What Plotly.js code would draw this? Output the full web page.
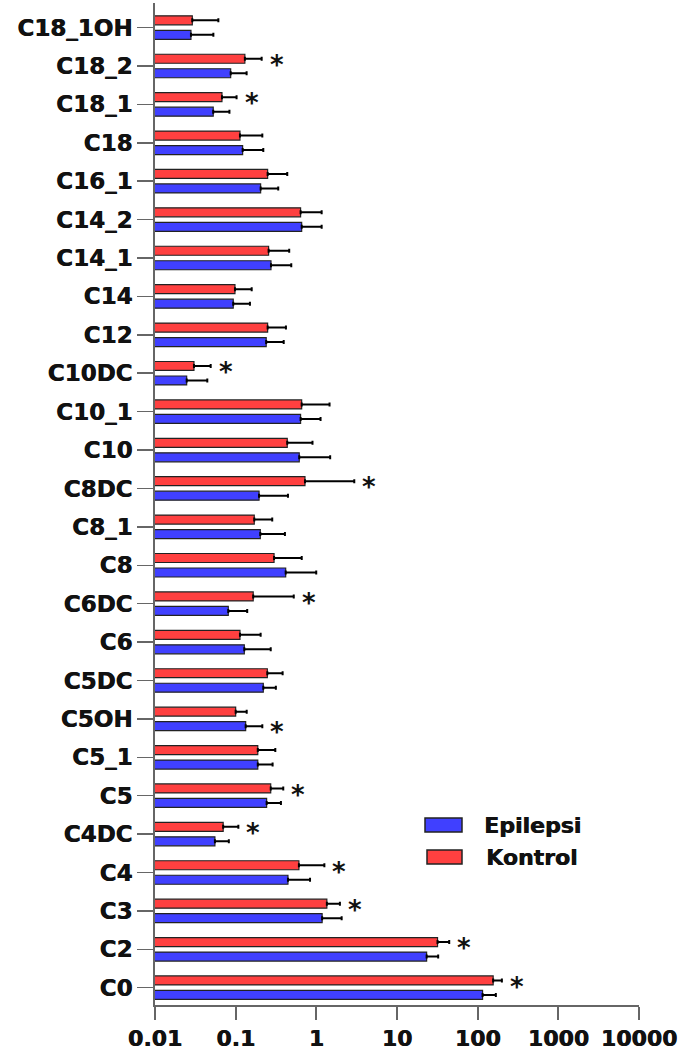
<!DOCTYPE html>
<html>
<head>
<meta charset="utf-8">
<script src="https://cdn.plot.ly/plotly-3.0.1.min.js"></script>
<style>html,body{margin:0;padding:0;background:#fff;}#chart{width:680px;height:1050px;}</style>
</head>
<body>
<div id="chart"></div>
<script>
// Categories (bottom to top)
var categories = ["C0","C2","C3","C4","C4DC","C5","C5_1","C5OH","C5DC","C6","C6DC","C8","C8_1","C8DC","C10","C10_1","C10DC","C12","C14","C14_1","C14_2","C16_1","C18","C18_1","C18_2","C18_1OH"];

var seriesNames = ["Epilepsi", "Kontrol"];
var seriesColors = ["#4040FF", "#FF4040"];

var epilepsiMean = [115, 23.3, 1.18, 0.445, 0.0553, 0.242, 0.188, 0.133, 0.220, 0.128, 0.081, 0.417, 0.202, 0.195, 0.614, 0.638, 0.0247, 0.239, 0.0933, 0.274, 0.658, 0.204, 0.122, 0.0527, 0.0867, 0.0279];
var epilepsiSD   = [53, 9.1, 0.88, 0.39, 0.027, 0.122, 0.099, 0.081, 0.095, 0.144, 0.058, 0.58, 0.206, 0.25, 0.87, 0.49, 0.0198, 0.155, 0.057, 0.215, 0.506, 0.133, 0.098, 0.031, 0.050, 0.025];

var kontrolMean = [155.6, 31.8, 1.35, 0.608, 0.070, 0.272, 0.188, 0.100, 0.247, 0.113, 0.165, 0.299, 0.170, 0.723, 0.436, 0.658, 0.0304, 0.249, 0.098, 0.256, 0.638, 0.249, 0.113, 0.0676, 0.130, 0.029];
var kontrolSD   = [44, 12.6, 0.61, 0.65, 0.038, 0.117, 0.122, 0.037, 0.135, 0.091, 0.36, 0.36, 0.114, 2.23, 0.46, 0.80, 0.0186, 0.171, 0.060, 0.205, 0.526, 0.187, 0.101, 0.035, 0.080, 0.032];

// Significance markers
var starsKontrol = ["C0","C2","C3","C4","C4DC","C5","C6DC","C8DC","C10DC","C18_1","C18_2"];
var starsEpilepsi = ["C5OH"];

var xTickVals = [0.01, 0.1, 1, 10, 100, 1000, 10000];
var xTickText = ["0.01", "0.1", "1", "10", "100", "1000", "10000"];

var FONT = "DejaVu Sans, Liberation Sans, Arial, sans-serif";
var HEAVY = "0.6px 0 0 #111";
var W = 680, H = 1050, ML = 155, MR = 41, MT = 3, MB = 45;
function px2x(p){ return (p - ML) / (W - ML - MR); }
function px2y(p){ return (H - MB - p) / (H - MT - MB); }

function zeros(a){ return a.map(function(){ return 0; }); }

var traces = [
  {
    type: "bar", orientation: "h", name: seriesNames[0], showlegend: false,
    y: categories, x: epilepsiMean,
    marker: {color: seriesColors[0], line: {color: "#222", width: 1.2}},
    error_x: {type: "data", array: epilepsiSD, arrayminus: zeros(epilepsiSD), symmetric: false, color: "#000", thickness: 2, width: 2}
  },
  {
    type: "bar", orientation: "h", name: seriesNames[1], showlegend: false,
    y: categories, x: kontrolMean,
    marker: {color: seriesColors[1], line: {color: "#222", width: 1.2}},
    error_x: {type: "data", array: kontrolSD, arrayminus: zeros(kontrolSD), symmetric: false, color: "#000", thickness: 2, width: 2}
  }
];

var annotations = [];
function addStars(list, means, sds, yshift) {
  list.forEach(function(c){
    var i = categories.indexOf(c);
    annotations.push({
      x: Math.log10(means[i] + sds[i]), y: c, xref: "x", yref: "y",
      text: "*", showarrow: false, xanchor: "center", yanchor: "middle",
      xshift: 15, yshift: yshift,
      font: {family: FONT, size: 26, color: "#111", weight: "bold"}
    });
  });
}
addStars(starsKontrol, kontrolMean, kontrolSD, 1);
addStars(starsEpilepsi, epilepsiMean, epilepsiSD, -13);

// Legend (drawn as boxes + labels to match the wide swatches)
var shapes = [];
var legendRows = [
  {x0: 425, x1: 462, y0: 818, y1: 832, tx: 482, ty: 825},
  {x0: 427, x1: 462, y0: 850, y1: 864, tx: 484, ty: 857}
];
legendRows.forEach(function(r, k){
  shapes.push({
    type: "rect", xref: "paper", yref: "paper",
    x0: px2x(r.x0), x1: px2x(r.x1), y0: px2y(r.y1), y1: px2y(r.y0),
    fillcolor: seriesColors[k], line: {color: "#222", width: 1.5}
  });
  annotations.push({
    xref: "paper", yref: "paper", x: px2x(r.tx), y: px2y(r.ty),
    text: seriesNames[k], showarrow: false, xanchor: "left", yanchor: "middle",
    font: {family: FONT, size: 22, color: "#111", weight: "bold", shadow: HEAVY}
  });
});

var layout = {
  width: W, height: H,
  margin: {l: ML, r: MR, t: MT, b: MB, pad: 0},
  paper_bgcolor: "#fff", plot_bgcolor: "#fff",
  barmode: "group", bargap: 0.245, bargroupgap: 0.38,
  showlegend: false,
  xaxis: {
    type: "log", range: [-2, 4],
    tickvals: xTickVals, ticktext: xTickText,
    ticks: "outside", ticklen: 13, tickwidth: 2, tickcolor: "#666",
    showline: true, linecolor: "#666", linewidth: 2,
    showgrid: false, zeroline: false,
    tickfont: {family: FONT, size: 22, color: "#111", weight: "bold", shadow: HEAVY}
  },
  yaxis: {
    type: "category", categoryorder: "array", categoryarray: categories,
    range: [-0.45, 25.64],
    ticks: "outside", ticklen: 16, tickwidth: 1.5, tickcolor: "#666",
    showline: true, linecolor: "#666", linewidth: 2,
    showgrid: false, zeroline: false,
    tickfont: {family: FONT, size: 23, color: "#111", weight: "bold", shadow: HEAVY}
  },
  shapes: shapes,
  annotations: annotations
};

Plotly.newPlot("chart", traces, layout, {displayModeBar: false, staticPlot: true});
</script>
</body>
</html>
